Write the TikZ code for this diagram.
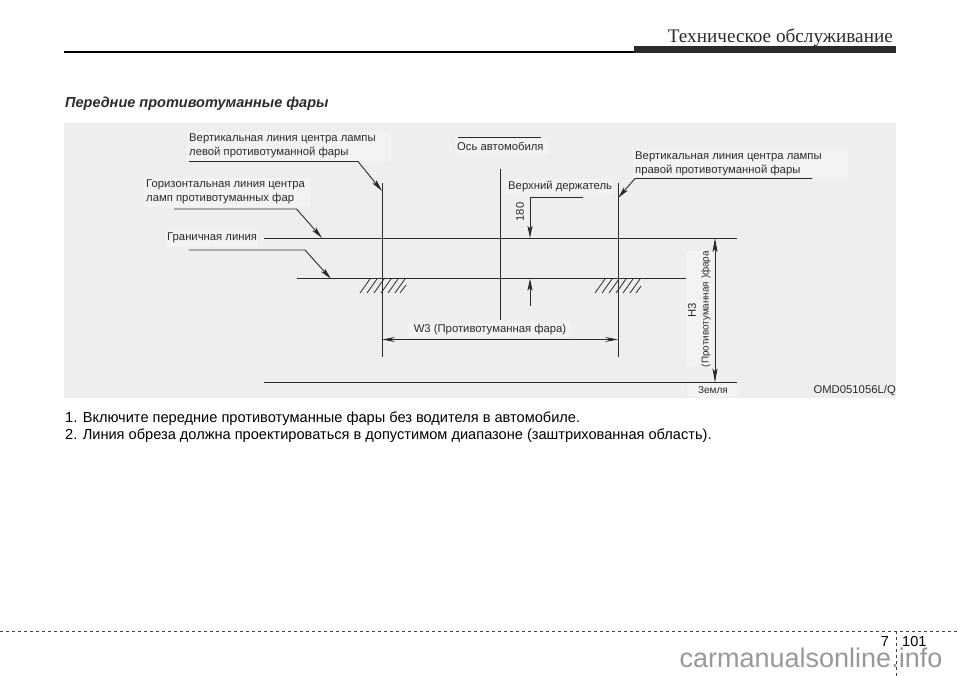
\documentclass[tikz,border=0pt]{standalone}
\usepackage{fontspec}
\setmainfont{Liberation Sans}
\newfontfamily\serifhead{Liberation Serif}
\usetikzlibrary{
    positioning,
    arrows.meta,
    calc
}
\definecolor{panelgray}{HTML}{EEEEEE}
\definecolor{patchgray}{HTML}{F3F3F3}
\definecolor{inkgray}{HTML}{2B2B2B}
\tikzset{
    lab/.style={inner sep=0pt, text=inkgray, font=\fontsize{11.3}{14}\selectfont, align=left},
    ln/.style={line width=0.9pt, draw=inkgray},
    tip/.style={ln, -{Stealth[length=12pt, width=5pt, inset=2.5pt]}},
    hatch/.style={line width=0.8pt, draw=inkgray},
    body/.style={inner sep=0pt, anchor=base west, text=black, font=\fontsize{14.6}{17}\selectfont}
}
\begin{document}
\begin{tikzpicture}[x=1pt, y=-1pt]
    \useasboundingbox (0,0) rectangle (960,676);
    \fill[white] (0,0) rectangle (960,676);

    % header
    \node[inner sep=0pt, anchor=base east, text=inkgray, font=\serifhead\fontsize{19.2}{24}\selectfont] (headtitle) at (893,43) {Техническое обслуживание};
    \coordinate (ruleL) at (64,52);
    \coordinate (ruleM) at (634,52);
    \draw[line width=1.2pt, black] (ruleL) -- (ruleM);
    \fill[inkgray] (634,46) rectangle (896,53);
    \node[inner sep=0pt, anchor=base west, text=inkgray, font=\bfseries\itshape\fontsize{14.5}{17}\selectfont] (caption) at (65,108) {Передние противотуманные фары};

    % panel
    \fill[panelgray] (64,123) rectangle (896,398);
    \fill[patchgray] (187,132) rectangle (391,161);
    \fill[patchgray] (144,178) rectangle (310,207);
    \fill[patchgray] (166,231) rectangle (258,247);
    \fill[patchgray] (455,139) rectangle (548,154);
    \fill[patchgray] (633,150) rectangle (848,177);
    \fill[patchgray] (506,179) rectangle (612,194);
    \fill[patchgray] (515,202) rectangle (527,222);
    \fill[patchgray] (408,323) rectangle (571,337);
    \fill[patchgray] (686,251) rectangle (713,367);
    \fill[patchgray] (687,383) rectangle (739,397);

    % labels
    \node[lab, anchor=north west] (lblLeft) at (189,133.5) {Вертикальная линия центра лампы\\левой противотуманной фары};
    \node[lab, anchor=north west] (lblHoriz) at (146,180) {Горизонтальная линия центра\\ламп противотуманных фар};
    \node[lab, anchor=west] (lblBorder) at (167,238) {Граничная линия};
    \node[lab, anchor=west] (lblAxis) at (457,146) {Ось автомобиля};
    \node[lab, anchor=north west] (lblRight) at (635,152) {Вертикальная линия центра лампы\\правой противотуманной фары};
    \node[lab, anchor=west] (lblHolder) at (508,186) {Верхний держатель};
    \node[lab, rotate=90] (lbl180) at (520,212) {180};
    \node[lab] (lblWidth) at (490,330) {W3 (Противотуманная фара)};
    \node[lab, rotate=90] (lblHeight) at (692,310) {H3};
    \node[lab, rotate=90, font=\fontsize{9.9}{12}\selectfont] (lblFog) at (706,309) {(Противотуманная )фара};
    \node[lab, font=\fontsize{10}{12}\selectfont] (lblGround) at (713,390) {Земля};
    \node[lab, anchor=east] (lblCode) at (896,390) {OMD051056L/Q};

    % reference lines
    \coordinate (vlT) at (382,183);
    \coordinate (vlB) at (382,357);
    \coordinate (vrT) at (618,183);
    \coordinate (vrB) at (618,357);
    \coordinate (vcT) at (500,169);
    \coordinate (vcB) at (500,320);
    \coordinate (hTopL) at (264,238);
    \coordinate (hTopR) at (737,238);
    \coordinate (hMidL) at (297,278.5);
    \coordinate (hMidR) at (686,278.5);
    \coordinate (hGndL) at (264,382.5);
    \coordinate (hGndR) at (737,382.5);
    \draw[ln] (vlT) -- (vlB);
    \draw[ln] (vrT) -- (vrB);
    \draw[ln] (vcT) -- (vcB);
    \draw[ln] (hTopL) -- (hTopR);
    \draw[ln] (hMidL) -- (hMidR);
    \draw[ln] (hGndL) -- (hGndR);
    \coordinate (axisL) at (458,137);
    \coordinate (axisR) at (541,137);
    \draw[ln] (axisL) -- (axisR);

    % hatching
    \foreach \hx in {360,367,374,381,388,395} {
        \draw[hatch] (\hx,293) -- ++(10,-14);
    }
    \draw[hatch] (400,293) -- ++(6,-8);
    \foreach \hx in {595,602,609,616,623,630} {
        \draw[hatch] (\hx,293) -- ++(10,-14);
    }
    \draw[hatch] (636,293) -- ++(5,-7);

    % leaders
    \coordinate (ldA) at (189,161.5);
    \coordinate (ldAk) at (358,161.5);
    \coordinate (ldAt) at (382,191);
    \draw[tip] (ldA) -- (ldAk) -- (ldAt);
    \coordinate (ldB) at (174,209);
    \coordinate (ldBk) at (296.5,209);
    \coordinate (ldBt) at (322,238);
    \draw[tip] (ldB) -- (ldBk) -- (ldBt);
    \coordinate (ldC) at (189,250);
    \coordinate (ldCk) at (305,250);
    \coordinate (ldCt) at (331,279);
    \draw[tip] (ldC) -- (ldCk) -- (ldCt);
    \coordinate (ldD) at (812,178.5);
    \coordinate (ldDk) at (635,178.5);
    \coordinate (ldDt) at (618,198);
    \draw[tip] (ldD) -- (ldDk) -- (ldDt);
    \coordinate (ldE) at (583,197);
    \coordinate (ldEk) at (530,197);
    \coordinate (ldEt) at (530,238);
    \draw[tip] (ldE) -- (ldEk) -- (ldEt);
    \coordinate (ldF) at (530,306);
    \coordinate (ldFt) at (530,278.5);
    \draw[tip] (ldF) -- (ldFt);

    % dimensions
    \coordinate (dimWl) at (382,339.5);
    \coordinate (dimWr) at (618,339.5);
    \draw[ln, {Stealth[length=13pt, width=5pt, inset=5pt]}-{Stealth[length=13pt, width=5pt, inset=5pt]}] (dimWl) -- (dimWr);
    \coordinate (dimHt) at (715,238);
    \coordinate (dimHb) at (715,382.5);
    \draw[ln, {Stealth[length=14pt, width=5pt, inset=3pt]}-{Stealth[length=14pt, width=5pt, inset=3pt]}] (dimHt) -- (dimHb);

    % instructions
    \node[body] (stepA) at (65,422) {1. Включите передние противотуманные фары без водителя в автомобиле.};
    \node[body] (stepB) at (65,439) {2. Линия обреза должна проектироваться в допустимом диапазоне (заштрихованная область).};

    % footer
    \node[inner sep=0pt, anchor=base, text=black!40, font=\fontsize{27}{29}\selectfont] (mark) at (811,667) {carmanualsonline.info};
    \coordinate (footL) at (0,631);
    \coordinate (footR) at (960,631);
    \coordinate (footT) at (896,631);
    \coordinate (footB) at (896,676);
    \draw[line width=0.7pt, dashed, black!75] (footL) -- (footR);
    \draw[line width=0.7pt, dashed, black!75] (footT) -- (footB);
    \node[inner sep=0pt, anchor=base east, font=\fontsize{14.5}{18}\selectfont] (chapnum) at (889,646) {7};
    \node[inner sep=0pt, anchor=base west, font=\fontsize{14.5}{18}\selectfont] (pagenum) at (902,646) {101};
\end{tikzpicture}
\end{document}
